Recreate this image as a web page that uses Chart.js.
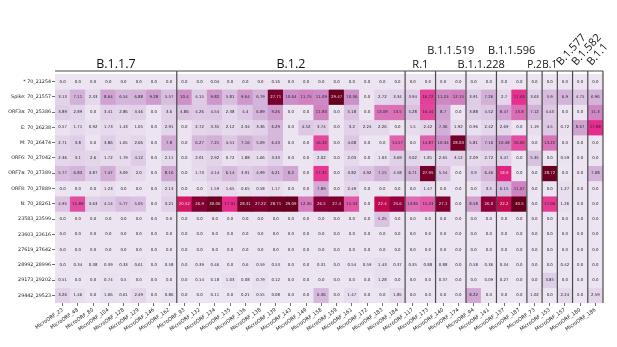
<!DOCTYPE html>
<html><head><meta charset="utf-8">
<script src="https://cdn.jsdelivr.net/npm/chart.js@4"></script>
<style>html,body{margin:0;padding:0;background:#fff}canvas{display:block}</style>
</head><body>
<canvas id="c" width="617" height="347" style="width:617px;height:347px"></canvas>
<script>
// ---- data ----
const colLabels = ["MicroORF_23","MicroORF_48","MicroORF_80","MicroORF_104","MicroORF_128","MicroORF_129","MicroORF_146","MicroORF_162",
  "MicroORF_93","MicroORF_132","MicroORF_134","MicroORF_135","MicroORF_136","MicroORF_138","MicroORF_139","MicroORF_143","MicroORF_149","MicroORF_158","MicroORF_159","MicroORF_161","MicroORF_172","MicroORF_183","MicroORF_184",
  "MicroORF_117","MicroORF_173","MicroORF_140","MicroORF_174","MicroORF_94","MicroORF_141","MicroORF_137","MicroORF_187","MicroORF_73","MicroORF_153","MicroORF_157","MicroORF_180","MicroORF_186"];
const rowLabels = ["* 70_21254","Spike: 70_21557","ORF3a: 70_25386","E: 70_26238","M: 70_26474","ORF6: 70_27042","ORF7a: 70_27389","ORF8: 70_27889","N: 70_28261","23583_23599","23603_23616","27619_27642","28992_28996","29173_29202","29442_29523"];
const groupNames = ["B.1.1.7","B.1.2","R.1","B.1.1.519","B.1.1.228","B.1.1.596","P.2","B.1","B.1.577","B.1.582","B.1.1"];
const groupSizes = [8,15,2,2,2,2,1,1,1,1,1];

const rowStar  = [0,0,0,0,0,0,0,0, 0,0,0.04,0,0,0,0.16,0,0,0,0,0,0,0,0, 0,0, 0,0, 0,0, 0,0, 0,0,0,0,0];
const rowSpike = [3.13,7.11,2.33,8.64,6.54,6.88,9.28,5.57, 10.4,4.15,9.82,5.81,9.64,6.79,27.71,10.64,11.75,11.09,29.47,10.36,0,2.72,3.34, 3.94,16.72, 11.24,12.15, 3.91,7.26, 2.7,17.63, 3.63,5.9,6.9,4.75,6.96];
const rowORF3a = [3.89,2.89,0,3.41,2.86,3.46,0,3.6, 4.86,4.26,4.54,2.38,4.4,6.89,9.26,0,0,11.83,0,5.18,0,13.09,13.5, 5.28,16.44, 8.7,0, 3.88,4.52, 8.47,13.8, 7.12,4.43,0,0,11.3];
const rowE     = [0.57,1.71,0.92,1.73,1.43,1.05,0,2.91, 0,2.72,3.35,2.12,2.34,3.36,6.29,0,4.52,3.74,0,3.2,2.24,2.26,0, 1.5,2.42, 7.36,1.92, 0.96,2.42, 2.69,0, 1.19,4.5,0.72,8.67,17.88];
const rowM     = [2.71,3.8,0,3.86,1.65,2.66,0,7.8, 0,6.27,7.21,4.51,7.16,5.09,6.43,0,0,16.32,0,4.68,0,0,14.57, 0,14.87, 10.34,28.03, 5.81,7.16, 10.48,16.05, 0,13.22,0,0,0];
const rowORF6  = [2.36,3.1,2.6,1.72,1.79,4.12,0,2.11, 0,2.01,2.92,0.72,1.88,1.66,3.33,0,0,2.02,0,2.03,0,1.03,3.69, 3.02,1.81, 2.65,3.12, 2.09,2.72, 3.47,0, 5.35,0,0.59,0,0];
const rowORF7a = [5.77,6.83,3.87,7.47,3.09,2.0,0,8.16, 0,1.73,4.14,6.14,3.91,4.99,6.21,8.2,0,17.31,0,3.82,4.92,7.15,4.58, 6.71,27.95, 5.54,0, 3.9,6.46, 18.9,0, 0,28.72,0,0,7.08];
const rowORF8  = [0,0,0,1.23,0,0,0,2.13, 0,0,1.59,1.65,0.65,0.58,1.17,0,0,7.89,0,2.49,0,0,0, 0,1.47, 0,0, 0,3.5, 6.15,11.67, 0,0,1.27,0,0];
const rowN     = [4.95,15.89,3.63,4.14,5.77,5.05,0,3.21, 20.52,26.9,30.06,17.91,28.31,27.22,28.71,29.09,12.36,26.5,27.4,15.33,0,22.4,25.6, 13.85,15.23, 27.1,0, 8.58,26.0, 22.2,30.5, 0,17.06,1.26,0,0];
const row23583 = [0,0,0,0,0,0,0,0, 0,0,0,0,0,0,0,0,0,0,0,0,0,5.25,0, 0,0, 0,0, 0,0, 0,0, 0,0,0,0,0];
const row23603 = [0,0,0,0,0,0,0,0, 0,0,0,0,0,0,0,0,0,0,0,0,0,0,0, 0,0, 0,0, 0,0, 0,0, 0,0,0,0,0];
const row27619 = [0,0,0,0,0,0,0,0, 0,0,0,0,0,0,0,0,0,0,0,0,0,0,0, 0,0, 0,0, 0,0, 0,0, 0,0,0,0,0];
const row28992 = [0,0.34,0.38,0.39,0.33,0.61,0,0.58, 0,0.39,0.46,0,0.6,0.59,0.53,0,0,0.31,0,0.54,0.59,1.43,0.37, 0.35,0.88, 0.88,0, 0.58,0.36, 0.34,0, 0,0,0.42,0,0];
const row29173 = [0.51,0,0,0.74,0.5,0,0,0, 0,0.14,0.18,1.03,0.08,0.79,0.12,0,0,0,0,0,0,1.28,0, 0,0, 0.37,0, 0,0.09, 0.27,0, 0,3.85,0,0,0];
const row29442 = [3.26,1.46,0,1.06,0.61,2.49,0,0.86, 0,0,0.11,0,0.21,0.55,0.08,0,0,6.36,0,1.47,0,0,1.85, 0,0, 0,0, 8.22,0, 0,0, 1.02,0,2.24,0,2.59];

const matrix = [rowStar,rowSpike,rowORF3a,rowE,rowM,rowORF6,rowORF7a,rowORF8,rowN,row23583,row23603,row27619,row28992,row29173,row29442];

// ---- colour map (PuRd-like) ----
const VMAX = 29;
const stops = [[0,[236,229,241]],[0.125,[224,208,232]],[0.25,[210,176,216]],[0.375,[204,140,198]],[0.5,[223,101,176]],[0.625,[231,41,138]],[0.75,[200,15,84]],[0.875,[150,0,66]],[1,[103,0,31]]];
function cmap(v){
  let t = Math.max(0, Math.min(1, v / VMAX));
  for (let i = 1; i < stops.length; i++) {
    if (t <= stops[i][0]) {
      const a = stops[i-1], b = stops[i];
      const f = (t - a[0]) / (b[0] - a[0]);
      return a[1].map((c, k) => Math.round(c + (b[1][k] - c) * f));
    }
  }
  return stops[stops.length-1][1];
}
const rgb = c => `rgb(${c[0]},${c[1]},${c[2]})`;
const fmt = v => Number.isInteger(v) ? v.toFixed(1) : String(v);

const datasets = matrix.map((row, r) => ({
  label: rowLabels[r],
  data: row.map(() => 1),
  values: row,
  backgroundColor: row.map(v => rgb(cmap(v))),
  borderWidth: 0,
  barPercentage: 1,
  categoryPercentage: 1
}));

const annotPlugin = {
  id: 'annot',
  afterDatasetsDraw(chart) {
    const ctx = chart.ctx;
    ctx.save();
    ctx.font = '3.9px "DejaVu Sans"';
    ctx.textAlign = 'center';
    ctx.textBaseline = 'middle';
    chart.data.datasets.forEach((ds, r) => {
      const meta = chart.getDatasetMeta(r);
      meta.data.forEach((el, j) => {
        const v = ds.values[j];
        const c = cmap(v);
        const lum = (0.299*c[0] + 0.587*c[1] + 0.114*c[2]) / 255;
        ctx.fillStyle = lum > 0.42 ? '#262626' : '#f0d6e2';
        ctx.fillText(fmt(v), el.x, (el.y + el.base) / 2);
      });
    });
    // group separators and labels
    const xs = chart.scales.x, area = chart.chartArea;
    const cw = xs.getPixelForValue(1) - xs.getPixelForValue(0);
    const topY = area.top - 3;
    ctx.strokeStyle = '#4a4a4a';
    ctx.lineWidth = 1.2;
    ctx.beginPath();
    ctx.moveTo(area.left, topY);
    ctx.lineTo(area.right, topY);
    ctx.stroke();
    let s = 0;
    const level = [0,0,0,1,0,1,0,0,2,2,2];
    groupSizes.forEach((n, g) => {
      const e = s + n;
      const right = xs.getPixelForValue(e - 1) + cw / 2;
      ctx.beginPath();
      ctx.moveTo(right, topY);
      ctx.lineTo(right, area.bottom);
      ctx.stroke();
      const cx = (xs.getPixelForValue(s) + xs.getPixelForValue(e - 1)) / 2;
      ctx.fillStyle = '#111';
      ctx.textBaseline = 'alphabetic';
      if (level[g] === 2) {
        ctx.save();
        ctx.translate(cx - 4, topY - 5);
        ctx.rotate(-48 * Math.PI / 180);
        ctx.textAlign = 'left';
        ctx.font = '11px "Open Sans"';
        ctx.fillText(groupNames[g], 0, 0);
        ctx.restore();
      } else {
        ctx.textAlign = 'center';
        ctx.font = (g < 2 ? '12.5px' : (n === 1 ? '10px' : '11px')) + ' "Open Sans"';
        ctx.fillText(groupNames[g], cx, level[g] === 1 ? topY - 17 : topY - 3);
      }
      s = e;
    });
    ctx.restore();
  }
};

new Chart(document.getElementById('c'), {
  type: 'bar',
  data: { labels: colLabels, datasets },
  options: {
    responsive: false,
    animation: false,
    events: [],
    layout: { padding: { top: 74, right: 14, left: 0, bottom: 0 } },
    plugins: { legend: { display: false }, tooltip: { enabled: false } },
    scales: {
      x: {
        stacked: true,
        offset: true,
        border: { display: false },
        grid: { display: true, drawOnChartArea: false, offset: false, tickLength: 3, tickColor: '#333', tickWidth: 0.7 },
        ticks: { autoSkip: false, minRotation: 35, maxRotation: 35, padding: 1, color: '#222', font: { family: 'DejaVu Sans', size: 5 } },
        afterFit: s => { s.height = 44; }
      },
      y: {
        stacked: true,
        reverse: true,
        min: 0, max: 15,
        border: { display: false },
        grid: { display: true, drawOnChartArea: false, tickLength: 3, tickColor: '#333', tickWidth: 0.7 },
        afterBuildTicks: s => { s.ticks = rowLabels.map((_, i) => ({ value: i + 0.5 })); },
        ticks: { autoSkip: false, padding: 1, color: '#222', font: { family: 'DejaVu Sans', size: 4.8 },
          callback: v => rowLabels[Math.floor(v)] },
        afterFit: s => { s.width = 55; }
      }
    }
  },
  plugins: [annotPlugin]
});
</script>
</body></html>
